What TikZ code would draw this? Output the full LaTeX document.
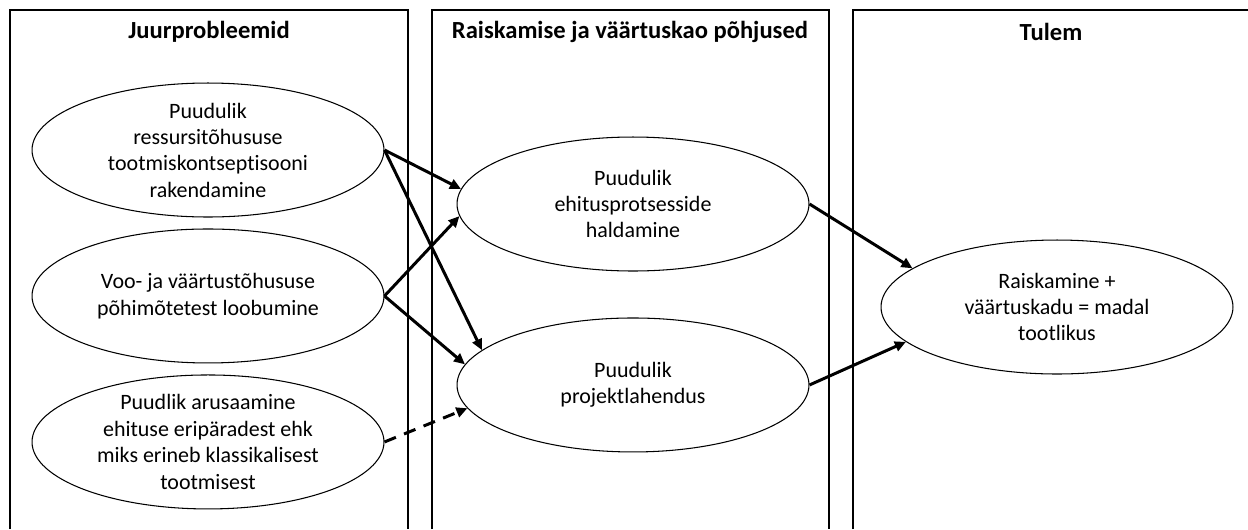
\documentclass[tikz,border=0pt]{standalone}
\usepackage{fontspec}
\setmainfont{Carlito}[Ligatures=NoCommon]
\usetikzlibrary{shapes.geometric,arrows.meta}

\begin{document}
\begin{tikzpicture}[x=0.02cm,y=-0.02cm,node distance=2.92cm,
				main node/.style = {ellipse,draw,line width=0.6pt,inner xsep=0pt,inner ysep=-1.5pt,align=center,
					minimum width=7.04cm,minimum height=2.68cm,font=\fontsize{12.5}{15}\selectfont},
				title/.style = {font=\fontsize{14}{16}\selectfont\bfseries},
				arr/.style = {-{Triangle[length=0.22cm,width=0.2cm]},line width=1.7pt}]
				\useasboundingbox (0,0) rectangle (1248,529);
				% columns
				\draw[line width=0.7pt] (10,529) -- (10,10) -- (408,10) -- (408,529);
				\draw[line width=0.7pt] (432,529) -- (432,10) -- (829,10) -- (829,529);
				\draw[line width=0.7pt] (853,529) -- (853,10) -- (1248,10);
				\node[title] (t1) at (209,32) {Juurprobleemid};
				\node[title] (t2) at (630,32) {Raiskamise ja väärtuskao põhjused};
				\node[title] (t3) at (1051,32) {Tulem};
				
				\node[main node] (1) at (208,150) {Puudulik\\ressursitõhususe\\tootmiskontseptisooni\\rakendamine};
				\node[main node] [below of = 1](2) {Voo- ja väärtustõhususe\\põhimõtetest loobumine};
				\node[main node] [below of = 2](3) {Puudlik arusaamine\\ehituse eripäradest ehk\\miks erineb klassikalisest\\tootmisest};
				\node[main node] (4) at (633,204) {Puudulik\\ehitusprotsesside\\haldamine};
				\node[main node] [below of = 4,node distance=3.62cm](5) {Puudulik\\projektlahendus};
				\node[main node] (6) at (1057,307) {Raiskamine +\\väärtuskadu = madal\\tootlikus};
				
				\draw[arr] (1.east) -- (4.175);
				\draw[arr] (1.east) -- (5.167);
				\draw[arr] (2.east) -- (4.184);
				\draw[arr] (2.east) -- (5.173);
				\draw[arr,dash pattern=on 7pt off 5pt] (3.east) -- (5.188);
				\draw[arr] (4.east) -- (6.165);
				\draw[arr] (5.east) -- (6.193);
\end{tikzpicture}
\end{document}
